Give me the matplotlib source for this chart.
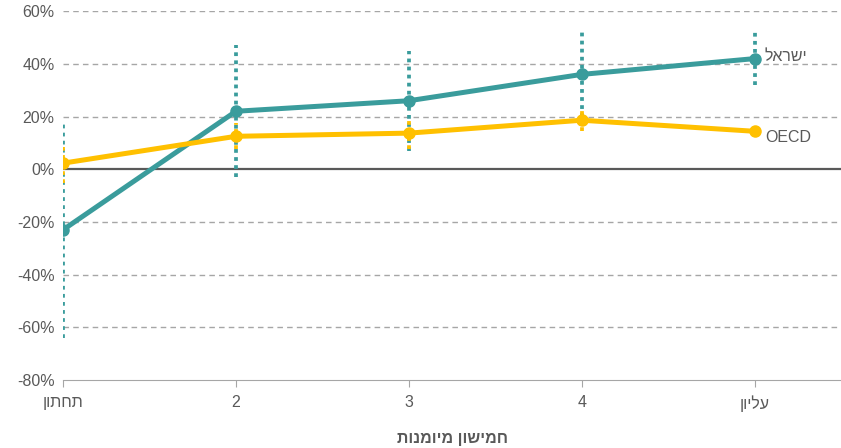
import matplotlib

matplotlib.use("Agg")
import matplotlib.pyplot as plt
import numpy as np

plt.rcParams["font.family"] = ["Liberation Sans", "DejaVu Sans"]


def heb(s):
    # matplotlib has no bidi support: feed Hebrew in visual order
    return s[::-1]


# -------- Data --------
categories = ["תחתון", "2", "3", "4", "עליון"]
israel = [-23, 22, 26, 36, 42]
israel_err = [41, 25, 19, 16, 10]
oecd = [2.3, 12.5, 13.7, 18.6, 14.4]
oecd_err = [7.4, 5, 6, 4, 2]

TEAL = "#3A9C9C"
YELLOW = "#FFC000"
GREY = "#595959"

fig = plt.figure(figsize=(8.41, 4.48), dpi=100)
ax = fig.add_axes([0.075, 0.152, 0.925, 0.823])

x = np.arange(len(categories))

ax.axhline(0, color=GREY, lw=1.6, zorder=2)

for vals, errs, col, z in [(israel, israel_err, TEAL, 3), (oecd, oecd_err, YELLOW, 4)]:
    eb = ax.errorbar(x, vals, yerr=errs, fmt="none", ecolor=col,
                     elinewidth=2.7, capsize=0, zorder=z)
    eb[2][0].set_linestyle((0, (1.0, 1.15)))
    ax.plot(x, vals, color=col, lw=3.6, marker="o", markersize=8,
            solid_capstyle="round", zorder=z + 2)

ax.text(x[-1] + 0.06, israel[-1] + 0.8, heb("ישראל"), fontsize=11.5,
        color=GREY, va="center", ha="left")
ax.text(x[-1] + 0.06, oecd[-1] - 2.3, "OECD", fontsize=11.5,
        color=GREY, va="center", ha="left")

ax.set_xlim(0, 4.5)
ax.set_ylim(-80, 60)
ax.set_yticks(np.arange(-80, 61, 20))
ax.set_yticklabels([f"{v}%" for v in range(-80, 61, 20)])
ax.set_xticks(x)
ax.set_xticklabels([heb(c) for c in categories])

for v in [-60, -40, -20, 20, 40, 60]:
    ax.axhline(v, color="#A6A6A6", lw=1, ls=(0, (4, 3)), zorder=1)

for s in ["top", "right", "left"]:
    ax.spines[s].set_visible(False)
ax.spines["bottom"].set_color("#A6A6A6")
ax.tick_params(axis="y", length=0, labelsize=11.5, labelcolor=GREY, pad=6)
ax.tick_params(axis="x", length=5, color="#A6A6A6", labelsize=11.5,
               labelcolor=GREY, pad=6)

ax.set_xlabel(heb("חמישון מיומנות"), fontsize=11.5, fontweight="bold",
              color=GREY, labelpad=14)

fig.savefig("out.png", dpi=100)
